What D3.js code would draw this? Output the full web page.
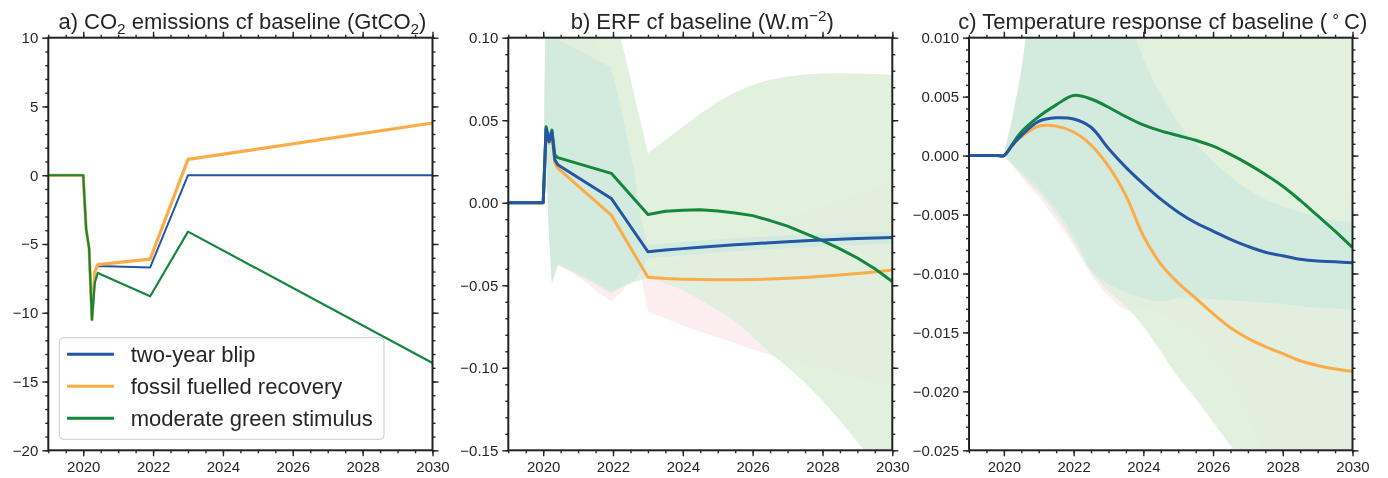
<!DOCTYPE html>
<html>
<head>
<meta charset="utf-8">
<script src="https://cdn.jsdelivr.net/npm/d3@7"></script>
<style>
  body { margin: 0; background: #fff; }
  svg text { font-family: "Liberation Sans", Arial, Helvetica, sans-serif; fill: #262626; }
</style>
</head>
<body>
<svg id="chart" width="1388" height="478"></svg>
<script>
// scenario names + colours
const scenarios = ["two-year blip", "fossil fuelled recovery", "moderate green stimulus"];
const lineColors = ["#2356a4", "#fbab47", "#15873d"];

// a) CO2 emissions cf baseline (GtCO2)
const yearsA = [2019, 2020, 2020.083, 2020.167, 2020.25, 2020.333, 2020.417, 2021.917, 2023, 2030];
const blueA = [0, 0, -3.9, -5.3, -10.5, -7.0, -6.6, -6.7, 0, 0];
const orangeA = [0, 0, -3.9, -5.3, -10.5, -7.0, -6.5, -6.1, 1.15, 3.8];
const greenA = [0, 0, -3.9, -5.3, -10.5, -7.8, -7.1, -8.8, -4.1, -13.65];

// b) ERF cf baseline (W m-2)
const yearsB = [2019, 2020, 2020.083, 2020.167, 2020.25, 2020.333, 2020.417, 2021.95, 2023, 2023.5, 2024, 2024.5,
  2025, 2025.5, 2026, 2026.5, 2027, 2027.5, 2028, 2028.5, 2029, 2029.5, 2030];
const blueB = [0, 0, 0.045, 0.037, 0.043, 0.026, 0.023, 0.0026, -0.0297, -0.0287, -0.0278, -0.027,
  -0.0262, -0.0255, -0.0248, -0.0242, -0.0236, -0.0231, -0.0226, -0.0221, -0.0217, -0.0213, -0.021];
const orangeB = [0, 0, 0.044, 0.036, 0.041, 0.024, 0.021, -0.0075, -0.0452, -0.0459, -0.0463, -0.0465,
  -0.0466, -0.0466, -0.0465, -0.0462, -0.0458, -0.0453, -0.0446, -0.0438, -0.0429, -0.0419, -0.0408];
const greenB = [0, 0, 0.046, 0.038, 0.044, 0.029, 0.0273, 0.0178, -0.0071, -0.0052, -0.0045, -0.0043,
  -0.005, -0.0062, -0.0078, -0.0108, -0.0142, -0.0185, -0.023, -0.028, -0.0335, -0.04, -0.0478];

// b) uncertainty ranges
const bandYearsB = [2020, 2020.083, 2020.167, 2020.25, 2020.417, 2021.2, 2021.95, 2022.2, 2022.6, 2022.8, 2023, 2023.5,
  2024, 2024.5, 2025, 2025.5, 2026, 2026.5, 2027, 2027.5, 2028, 2028.5, 2029, 2029.5, 2030];
const blueBandHiB = [0, 0.14, 0.2, 0.15, 0.099, 0.0905, 0.082, 0.06, 0.02, -0.01, -0.0255, -0.0247,
  -0.0238, -0.023, -0.0222, -0.0215, -0.0208, -0.0202, -0.0196, -0.0191, -0.0187, -0.0183, -0.0179, -0.0176, -0.0174];
const blueBandLoB = [0, 0.03, -0.02, -0.048, -0.037, -0.045, -0.054, -0.051, -0.047, -0.042, -0.034, -0.0327,
  -0.0318, -0.031, -0.0302, -0.0295, -0.0288, -0.0282, -0.0276, -0.0271, -0.0266, -0.0261, -0.0257, -0.0253, -0.025];
const orangeBandHiB = [0, 0.14, 0.2, 0.2, 0.18, 0.12, 0.063, 0.035, -0.013, -0.03, -0.0405, -0.0367,
  -0.033, -0.0291, -0.0253, -0.0215, -0.0177, -0.0139, -0.0101, -0.0063, -0.0025, 0.0013, 0.0051, 0.0089, 0.0127];
const orangeBandLoB = [0, 0.03, -0.02, -0.04, -0.036, -0.048, -0.06, -0.055, -0.045, -0.044, -0.066, -0.0702,
  -0.0744, -0.0782, -0.0817, -0.0852, -0.0887, -0.0922, -0.0952, -0.0979, -0.1006, -0.1033, -0.106, -0.1088, -0.1115];
const greenBandHiB = [0, 0.14, 0.2, 0.2, 0.2, 0.2, 0.14, 0.102, 0.066, 0.048, 0.03, 0.038,
  0.046, 0.054, 0.061, 0.067, 0.0715, 0.0745, 0.0765, 0.0777, 0.0783, 0.0785, 0.0783, 0.078, 0.0775];
const greenBandLoB = [0, 0.03, -0.02, -0.049, -0.038, -0.046, -0.055, -0.052, -0.048, -0.047, -0.045, -0.049,
  -0.053, -0.059, -0.065, -0.072, -0.081, -0.091, -0.0995, -0.109, -0.12, -0.132, -0.145, -0.159, -0.174];

// c) temperature response cf baseline (degC)
const yearsC = [2019, 2019.8, 2020, 2020.25, 2020.5, 2021, 2021.5, 2022, 2022.5, 2023, 2023.5, 2024, 2024.5,
  2025, 2025.5, 2026, 2026.5, 2027, 2027.5, 2028, 2028.5, 2029, 2029.5, 2030];
const blueC = [0, 0, 0, 0.0009, 0.0017, 0.0029, 0.0032, 0.0031, 0.0024, 0.0006, -0.001, -0.0024, -0.0037,
  -0.0048, -0.0057, -0.0064, -0.0071, -0.0077, -0.0082, -0.0085, -0.0088, -0.00895, -0.009, -0.0091];
const orangeC = [0, 0, 0, 0.0009, 0.0016, 0.0025, 0.0025, 0.002, 0.0009, -0.0009, -0.0034, -0.0068, -0.0092,
  -0.0108, -0.0121, -0.0134, -0.0146, -0.0155, -0.0162, -0.0168, -0.0174, -0.0178, -0.0181, -0.0183];
const greenC = [0, 0, 0, 0.001, 0.002, 0.0033, 0.0043, 0.0051, 0.0048, 0.0041, 0.0033, 0.0026, 0.0021,
  0.0017, 0.0013, 0.0008, 0.0001, -0.0007, -0.0016, -0.0026, -0.0038, -0.0051, -0.0064, -0.0078];

// c) uncertainty ranges
const bandYearsC = [2020, 2020.25, 2020.5, 2020.75, 2021, 2021.5, 2022, 2022.5, 2023, 2023.5, 2024, 2024.5,
  2025, 2025.5, 2026, 2026.5, 2027, 2027.5, 2028, 2028.5, 2029, 2029.5, 2030];
const blueBandHiC = [0, 0.0033, 0.0072, 0.012, 0.014, 0.015, 0.015, 0.015, 0.015, 0.0125, 0.0082, 0.0052,
  0.0028, 0.001, -0.0005, -0.0018, -0.0029, -0.0037, -0.0043, -0.0048, -0.0052, -0.0055, -0.0056];
const blueBandLoC = [0, -0.0007, -0.0014, -0.0021, -0.0028, -0.0046, -0.0068, -0.0097, -0.0109, -0.0116, -0.0121, -0.0124,
  -0.0121, -0.0121, -0.0122, -0.0123, -0.0124, -0.0125, -0.0126, -0.0128, -0.0129, -0.013, -0.0131];
const orangeBandHiC = [0, 0.0033, 0.0072, 0.012, 0.014, 0.015, 0.015, 0.014, 0.0095, 0.0054, 0.0013, -0.0028,
  -0.0058, -0.0072, -0.008, -0.0083, -0.0085, -0.0084, -0.0081, -0.0077, -0.0072, -0.0055, -0.0035];
const orangeBandLoC = [0, -0.0009, -0.0018, -0.0027, -0.0035, -0.0055, -0.0076, -0.0101, -0.0119, -0.0131, -0.0129, -0.0134,
  -0.0143, -0.0154, -0.0171, -0.0192, -0.022, -0.0257, -0.029, -0.033, -0.037, -0.041, -0.045];
const greenBandHiC = [0, 0.0033, 0.0072, 0.012, 0.014, 0.015, 0.015, 0.015, 0.015, 0.015, 0.015, 0.015,
  0.015, 0.015, 0.015, 0.015, 0.015, 0.015, 0.015, 0.015, 0.015, 0.015, 0.015];
const greenBandLoC = [0, -0.0008, -0.0016, -0.0024, -0.0031, -0.005, -0.0073, -0.0098, -0.0115, -0.0128, -0.0145, -0.0166,
  -0.0188, -0.0206, -0.0226, -0.0246, -0.027, -0.03, -0.033, -0.036, -0.039, -0.042, -0.045];

// band fills (pink / teal / light green as they appear), combined with "darken"
const bandColors = { blue: "rgb(211,234,230)", orange: "rgb(252,238,240)", green: "rgb(226,240,222)" };

// tick values
const xMajor = d3.range(2020, 2031, 2);
const xMinor = d3.range(0, 23).map(i => 2019 + i * 0.5);

const svg = d3.select("#chart");
const plotTop = 37.7, plotBottom = 450.3;

// title pieces: text, shift (sub > 0, sup < 0), gap before
const titleA = [["a) CO", 0], ["2", 5], [" emissions cf baseline (GtCO", 0], ["2", 5], [")", 0]];
const titleB = [["b) ERF cf baseline (W.m", 0], ["\u22122", -8], [")", 0]];
const titleC = [["c) Temperature response cf baseline (", 0], ["\u2218", -8, 4], ["C)", 0, 4]];

const panels = [
  {
    id: "a", left: 48.3, right: 432.5, domain: [-20, 10],
    major: [-20, -15, -10, -5, 0, 5, 10], minor: d3.range(-20, 11, 1), fmt: d3.format("d"),
    years: yearsA, series: [blueA, orangeA, greenA], widths: [2, 3.2, 2.2], order: [0, 1, 2],
    curve: d3.curveLinear, bands: [], title: titleA
  },
  {
    id: "b", left: 508.3, right: 892.3, domain: [-0.15, 0.10],
    major: [-0.15, -0.10, -0.05, 0, 0.05, 0.10], minor: d3.range(0, 26).map(i => -0.15 + i * 0.01), fmt: d3.format(".2f"),
    years: yearsB, series: [blueB, orangeB, greenB], widths: [3, 3, 3], order: [1, 2, 0],
    curve: d3.curveLinear,
    bands: [
      { years: bandYearsB, hi: orangeBandHiB, lo: orangeBandLoB, color: bandColors.orange },
      { years: bandYearsB, hi: blueBandHiB, lo: blueBandLoB, color: bandColors.blue },
      { years: bandYearsB, hi: greenBandHiB, lo: greenBandLoB, color: bandColors.green }
    ],
    title: titleB
  },
  {
    id: "c", left: 969, right: 1352.5, domain: [-0.025, 0.010],
    major: [-0.025, -0.02, -0.015, -0.01, -0.005, 0, 0.005, 0.01], minor: d3.range(0, 36).map(i => -0.025 + i * 0.001), fmt: d3.format(".3f"),
    years: yearsC, series: [blueC, orangeC, greenC], widths: [3, 3, 3], order: [1, 2, 0],
    curve: d3.curveCatmullRom.alpha(0.5),
    bands: [
      { years: bandYearsC, hi: orangeBandHiC, lo: orangeBandLoC, color: bandColors.orange },
      { years: bandYearsC, hi: blueBandHiC, lo: blueBandLoC, color: bandColors.blue },
      { years: bandYearsC, hi: greenBandHiC, lo: greenBandLoC, color: bandColors.green }
    ],
    title: titleC
  }
];

panels.forEach(drawPanel);

function drawPanel(p) {
  const x = d3.scaleLinear().domain([2019, 2030]).range([p.left, p.right]);
  const y = d3.scaleLinear().domain(p.domain).range([plotBottom, plotTop]);
  const g = svg.append("g").attr("class", "panel-" + p.id);

  g.append("clipPath").attr("id", "clip-" + p.id)
    .append("rect").attr("x", p.left).attr("y", plotTop).attr("width", p.right - p.left).attr("height", plotBottom - plotTop);

  const plot = g.append("g").attr("clip-path", `url(#clip-${p.id})`);

  //shaded ranges
  const bandGroup = plot.append("g").style("isolation", "isolate");
  p.bands.forEach(b => {
    bandGroup.append("path")
      .datum(b.years.map((t, i) => ({ t, lo: b.lo[i], hi: b.hi[i] })))
      .attr("d", d3.area().x(d => x(d.t)).y0(d => y(d.lo)).y1(d => y(d.hi)).curve(p.curve))
      .attr("fill", b.color)
      .style("mix-blend-mode", "darken");
  });

  //scenario lines
  p.order.forEach(k => {
    plot.append("path")
      .datum(p.years.map((t, i) => ({ t, v: p.series[k][i] })))
      .attr("d", d3.line().x(d => x(d.t)).y(d => y(d.v)).curve(p.curve))
      .attr("fill", "none")
      .attr("stroke", lineColors[k])
      .attr("stroke-width", p.widths[k])
      .attr("stroke-linejoin", "round");
  });

  //axes, ticks outward on all four sides
  const styleAxis = sel => {
    sel.attr("font-size", 15).attr("font-family", null).attr("color", "#262626");
    sel.select(".domain").remove();
    sel.selectAll(".tick line").attr("stroke-width", 1.4);
  };
  g.append("g").attr("transform", `translate(0,${plotBottom})`)
    .call(d3.axisBottom(x).tickValues(xMajor).tickSize(6).tickPadding(5).tickFormat(d3.format("d"))).call(styleAxis);
  g.append("g").attr("transform", `translate(0,${plotBottom})`)
    .call(d3.axisBottom(x).tickValues(xMinor).tickSize(3).tickFormat("")).call(styleAxis);
  g.append("g").attr("transform", `translate(0,${plotTop})`)
    .call(d3.axisTop(x).tickValues(xMajor).tickSize(6).tickFormat("")).call(styleAxis);
  g.append("g").attr("transform", `translate(0,${plotTop})`)
    .call(d3.axisTop(x).tickValues(xMinor).tickSize(3).tickFormat("")).call(styleAxis);
  g.append("g").attr("transform", `translate(${p.left},0)`)
    .call(d3.axisLeft(y).tickValues(p.major).tickSize(6).tickPadding(4).tickFormat(p.fmt)).call(styleAxis);
  g.append("g").attr("transform", `translate(${p.left},0)`)
    .call(d3.axisLeft(y).tickValues(p.minor).tickSize(3).tickFormat("")).call(styleAxis);
  g.append("g").attr("transform", `translate(${p.right},0)`)
    .call(d3.axisRight(y).tickValues(p.major).tickSize(6).tickFormat("")).call(styleAxis);
  g.append("g").attr("transform", `translate(${p.right},0)`)
    .call(d3.axisRight(y).tickValues(p.minor).tickSize(3).tickFormat("")).call(styleAxis);

  g.append("rect")
    .attr("x", p.left).attr("y", plotTop).attr("width", p.right - p.left).attr("height", plotBottom - plotTop)
    .attr("fill", "none").attr("stroke", "#222").attr("stroke-width", 2);

  // title with sub/superscripts
  const title = g.append("text")
    .attr("x", (p.left + p.right) / 2 + 2).attr("y", 29)
    .attr("text-anchor", "middle").attr("font-size", 22);
  let shift = 0;
  p.title.forEach(([s, off, gap]) => {
    title.append("tspan")
      .attr("dy", off - shift)
      .attr("dx", gap || 0)
      .attr("font-size", off !== 0 ? "0.7em" : null)
      .text(s);
    shift = off;
  });
}

//legend in panel a
const legend = svg.append("g").attr("class", "legend");
legend.append("rect")
  .attr("x", 59.3).attr("y", 337.7).attr("width", 324.7).attr("height", 101.6).attr("rx", 4)
  .attr("fill", "rgba(255,255,255,0.8)").attr("stroke", "#cccccc").attr("stroke-width", 1);
scenarios.forEach((name, i) => {
  const ly = 354.3 + i * 32;
  legend.append("line").attr("x1", 67).attr("x2", 114).attr("y1", ly).attr("y2", ly)
    .attr("stroke", lineColors[i]).attr("stroke-width", 3);
  legend.append("text").attr("x", 130.7).attr("y", ly + 7.5).attr("font-size", 22).text(name);
});
</script>
</body>
</html>
